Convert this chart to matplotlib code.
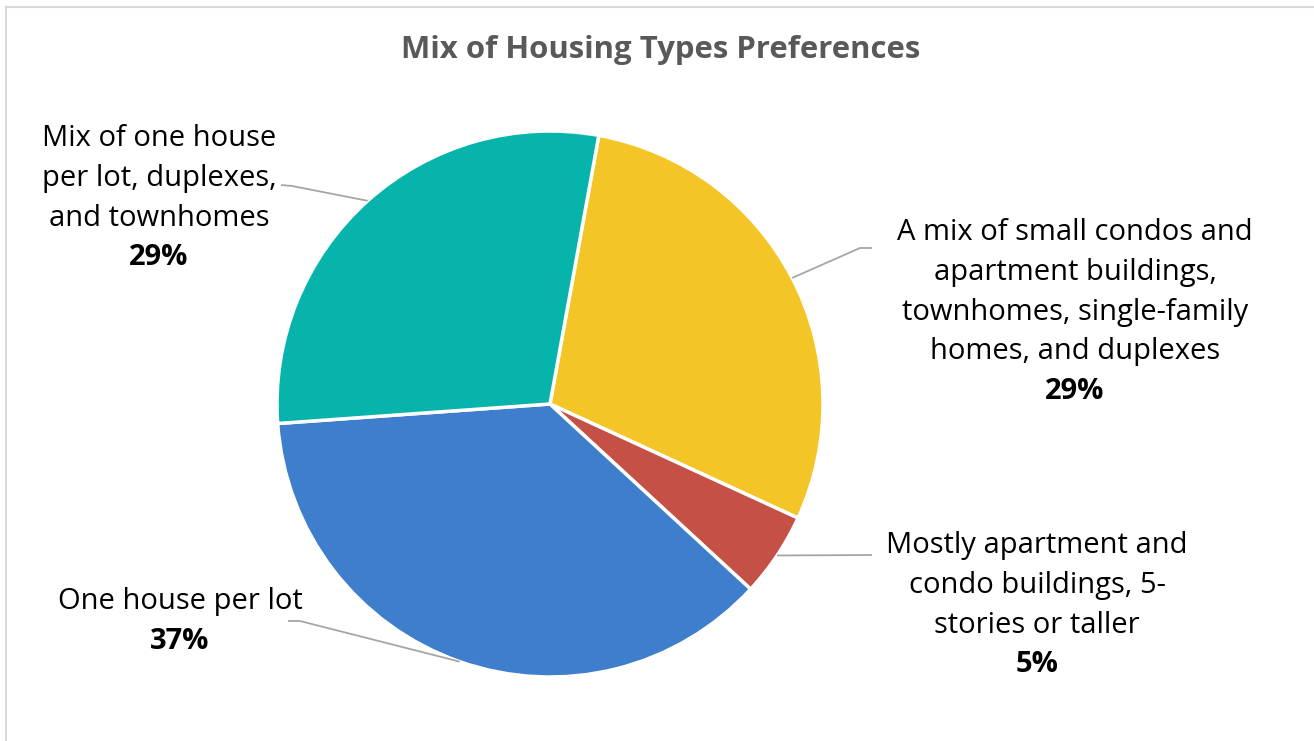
import matplotlib
matplotlib.use("Agg")
import matplotlib.pyplot as plt
import numpy as np

# ---- data ----
categories = [
    "A mix of small condos and\napartment buildings,\ntownhomes, single-family\nhomes, and duplexes",
    "Mostly apartment and\ncondo buildings, 5-\nstories or taller",
    "One house per lot",
    "Mix of one house\nper lot, duplexes,\nand townhomes",
]
values = [29, 5, 37, 29]
title = "Mix of Housing Types Preferences"

# ---- style ----
colors = ["#F4C526", "#C55146", "#3E7ECC", "#06B4AC"]
W, H = 1314, 741
FONT = "Open Sans"

fig = plt.figure(figsize=(W / 100, H / 100), dpi=100)
ax = fig.add_axes([0, 0, 1, 1])

cx, cy_px, R = 550, 404, 273
wedges, _ = ax.pie(values, colors=colors, startangle=79.7, counterclock=False,
                   center=(cx, H - cy_px), radius=R,
                   wedgeprops=dict(edgecolor="white", linewidth=2.5))
ax.set_xlim(0, W)
ax.set_ylim(0, H)
ax.set_aspect("equal")
ax.axis("off")

def py(y):  # pixel-from-top to data y
    return H - y

# border (top and left visible)
ax.plot([6, W + 5], [py(7), py(7)], color="#D9D9D9", lw=1.5, clip_on=False)
ax.plot([6, 6], [py(7), -5], color="#D9D9D9", lw=1.5, clip_on=False)

# title
ax.text(661, py(58), title, ha="center", va="baseline", fontsize=22.4,
        fontweight="bold", color="#595959", family=FONT)

# label layout: (center x, first baseline y px), leader elbow and end (px)
label_pos = [(1075, 240), (1037, 553), (180, 609), (159, 146)]
leader_pts = [[(860, 248), (872, 248)],
              [(872, 555), (872, 555)],
              [(300, 621), (288, 621)],
              [(292, 186), (281, 185)]]
step = 39.8

for w, name, v, (lx, ly), pts in zip(wedges, categories, values, label_pos, leader_pts):
    lines = name.split("\n")
    for i, ln in enumerate(lines):
        ax.text(lx, py(ly + i * step), ln, ha="center", va="baseline",
                fontsize=21, color="black", family=FONT)
    ax.text(lx, py(ly + len(lines) * step), f"{v}%", ha="center", va="baseline",
            fontsize=21, fontweight="bold", color="black", family=FONT)
    mid = np.deg2rad((w.theta1 + w.theta2) / 2)
    sx, sy = cx + R * np.cos(mid), (H - cy_px) + R * np.sin(mid)
    xs = [sx] + [p[0] for p in pts]
    ys = [sy] + [py(p[1]) for p in pts]
    ax.plot(xs, ys, color="#A6A6A6", lw=1.3, solid_capstyle="butt")

fig.savefig("out.png", dpi=100, facecolor="white")
